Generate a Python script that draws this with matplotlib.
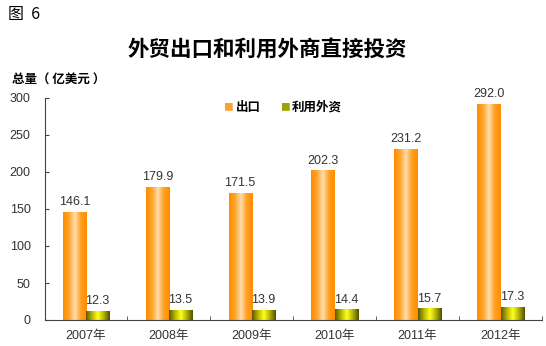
import numpy as np
import matplotlib.pyplot as plt
from matplotlib.colors import LinearSegmentedColormap

years = ["2007年", "2008年", "2009年", "2010年", "2011年", "2012年"]
export = [146.1, 179.9, 171.5, 202.3, 231.2, 292.0]
fdi = [12.3, 13.5, 13.9, 14.4, 15.7, 17.3]
yticks = [0, 50, 100, 150, 200, 250, 300]

CJK = ['Noto Sans CJK SC', 'DejaVu Sans']
NUM = ['Liberation Sans', 'Noto Sans CJK SC']

orange_cm = LinearSegmentedColormap.from_list(
    "o", ["#FF8C00", "#FFA52A", "#FFDDB0", "#FFA020", "#FF8C00"])
green_cm = LinearSegmentedColormap.from_list(
    "g", ["#5A5A00", "#B8B800", "#FFFF20", "#B0B000", "#505000"])

fig = plt.figure(figsize=(5.46, 3.46), dpi=100)
ax = fig.add_axes([44.5 / 546, 1 - 320 / 346, (542 - 44.5) / 546, (320 - 98) / 346])

x = np.arange(len(years))
w = 0.28
bars1 = ax.bar(x - w / 2, export, w, color="none", edgecolor="none")
bars2 = ax.bar(x + w / 2, fdi, w, color="none", edgecolor="none")

# fake cylinder shading: horizontal gradient clipped to each bar
grad = np.linspace(0, 1, 64).reshape(1, -1)
for bars, cm in ((bars1, orange_cm), (bars2, green_cm)):
    for b in bars:
        x0, y0 = b.get_x(), b.get_y()
        im = ax.imshow(grad, cmap=cm, aspect="auto",
                       extent=[x0, x0 + b.get_width(), y0, y0 + b.get_height()],
                       zorder=2)
        im.set_clip_path(b)

for b, v in zip(bars1, export):
    ax.text(b.get_x() + b.get_width() / 2, v + 5, f"{v:.1f}",
            ha="center", va="bottom", fontsize=9, family=NUM, color="#333333")
for b, v in zip(bars2, fdi):
    ax.text(b.get_x() + b.get_width() / 2, v + 5, f"{v:.1f}",
            ha="center", va="bottom", fontsize=9, family=NUM, color="#333333")

ax.set_xlim(-0.5, len(years) - 0.5)
ax.set_ylim(0, 300)
ax.set_yticks(yticks)
ax.set_yticklabels([str(t) for t in yticks], family=NUM, fontsize=9, color="#333333")
ax.set_xticks(x)
ax.set_xticklabels(years, family=NUM, fontsize=9, color="#333333")
ax.set_xticks(np.arange(-0.5, len(years)), minor=True)
ax.tick_params(axis="x", which="major", length=0, pad=7)
ax.tick_params(axis="x", which="minor", direction="in", length=3, color="#444444")
ax.tick_params(axis="y", direction="in", length=3, pad=10, color="#444444")
for s in ("top", "right"):
    ax.spines[s].set_visible(False)
for s in ("left", "bottom"):
    ax.spines[s].set_color("#444444")
    ax.spines[s].set_linewidth(0.8)

# legend
fig.text(223 / 546, 1 - 107 / 346, "\u25A0", color="#FFA030", fontsize=7,
         ha="left", va="center", family=CJK)
fig.text(236 / 546, 1 - 107 / 346, "出口", fontsize=9, fontweight="bold",
         ha="left", va="center", family=CJK)
fig.text(280 / 546, 1 - 107 / 346, "\u25A0", color="#A0A000", fontsize=7,
         ha="left", va="center", family=CJK)
fig.text(292 / 546, 1 - 107 / 346, "利用外资", fontsize=9, fontweight="bold",
         ha="left", va="center", family=CJK)

fig.text(8 / 546, 1 - 14 / 346, "图  6", fontsize=11.5, ha="left", va="center", family=CJK)
fig.text(267 / 546, 1 - 49 / 346, "外贸出口和利用外商直接投资", fontsize=15.5,
         fontweight="bold", ha="center", va="center", family=CJK)
fig.text(12 / 546, 1 - 80 / 346, "总量（ 亿美元 ）", fontsize=9, fontweight="bold",
         ha="left", va="center", family=CJK)

fig.savefig("out.png", dpi=100)
